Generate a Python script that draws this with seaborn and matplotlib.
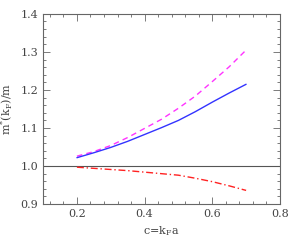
import seaborn as sns
import matplotlib
matplotlib.use("Agg")
import matplotlib.pyplot as plt
from matplotlib.ticker import MultipleLocator
import pandas as pd

c_vals = [0.2, 0.25, 0.3, 0.35, 0.4, 0.45, 0.5, 0.55, 0.6, 0.65, 0.7]
m_solid = [1.022, 1.035, 1.049, 1.065, 1.083, 1.101, 1.120, 1.143, 1.168, 1.192, 1.215]
m_dashed = [1.026, 1.038, 1.054, 1.075, 1.099, 1.123, 1.152, 1.184, 1.222, 1.261, 1.305]
m_dashdot = [0.997, 0.994, 0.991, 0.988, 0.984, 0.980, 0.976, 0.968, 0.959, 0.948, 0.936]

sns.set_style("white")
plt.rcParams['font.family'] = ['DejaVu Serif']
plt.rcParams['mathtext.fontset'] = 'dejavuserif'

fig = plt.figure(figsize=(2.95, 2.48), dpi=100)
ax = fig.add_axes([0.146, 0.177, 0.803, 0.767])

df = pd.DataFrame({"c": c_vals, "solid": m_solid, "dashed": m_dashed, "dashdot": m_dashdot})

ax.axhline(1.0, color="#555555", lw=0.8)
sns.lineplot(data=df, x="c", y="dashed", ax=ax, color="#ff33ff", lw=1.0, linestyle=(0, (4, 3)))
sns.lineplot(data=df, x="c", y="solid", ax=ax, color="#3333ff", lw=1.0)
sns.lineplot(data=df, x="c", y="dashdot", ax=ax, color="#ff2222", lw=1.0, linestyle=(0, (5, 2, 1, 2)))

ax.set_xlim(0.1, 0.8)
ax.set_ylim(0.9, 1.4)
ax.xaxis.set_major_locator(MultipleLocator(0.2))
ax.xaxis.set_minor_locator(MultipleLocator(0.04))
ax.yaxis.set_major_locator(MultipleLocator(0.1))
ax.yaxis.set_minor_locator(MultipleLocator(0.02))
ax.tick_params(which="both", direction="in", bottom=True, left=True, top=True, right=True,
               labelsize=8, colors="#666666", labelcolor="#444444")
ax.tick_params(which="major", length=5, width=0.6)
ax.tick_params(which="minor", length=2.5, width=0.6)
for s in ax.spines.values():
    s.set_color("#666666")
    s.set_linewidth(0.8)

ax.set_xlabel(r"c=k$_{\rm F}$a", fontsize=8, color="#444444")
ax.set_ylabel(r"m$^{*}$(k$_{\rm F}$)/m", fontsize=8, color="#444444")

fig.savefig("out.png", dpi=100)
